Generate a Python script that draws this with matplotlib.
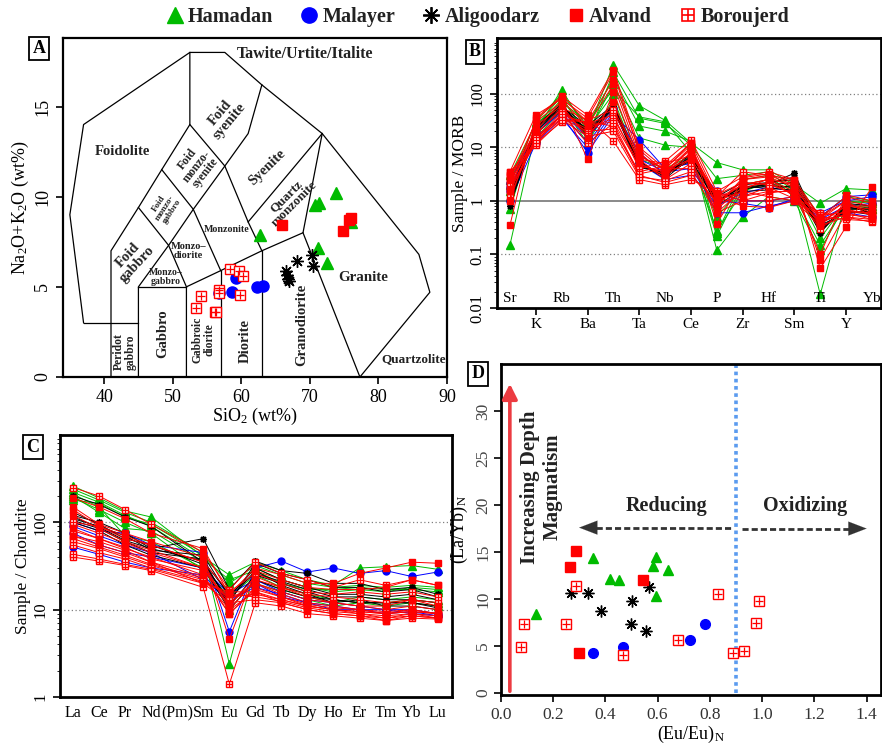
import numpy as np
import matplotlib
matplotlib.use('Agg')
import matplotlib.pyplot as plt
from matplotlib.lines import Line2D
from matplotlib.legend_handler import HandlerTuple

plt.rcParams['font.family'] = ['Liberation Serif', 'DejaVu Serif']
plt.rcParams['mathtext.fontset'] = 'custom'
plt.rcParams['mathtext.rm'] = 'Liberation Serif'
plt.rcParams['mathtext.it'] = 'Liberation Serif:italic'
plt.rcParams['mathtext.bf'] = 'Liberation Serif:bold'

GREEN = '#00bb00'
BLUE = '#0000ff'
BLACK = '#000000'
RED = '#ff0000'

# ---------------- Panel A : TAS (SiO2 vs Na2O+K2O) ----------------
ham_sio2 = [62.8, 73.8, 70.8, 71.3, 71.2, 72.5, 76.0]
ham_alk = [7.9, 10.2, 9.55, 9.65, 7.15, 6.3, 8.6]
mal_sio2 = [59.3, 58.7, 62.3, 63.2, 56.7]
mal_alk = [5.5, 4.7, 5.0, 5.05, 4.65]
ali_sio2 = [66.5, 66.7, 66.8, 66.9, 68.1, 70.3, 70.4]
ali_alk = [5.9, 5.65, 5.45, 5.3, 6.45, 6.75, 6.15]
alv_sio2 = [65.9, 74.9, 75.7, 76.0]
alv_alk = [8.45, 8.1, 8.7, 8.8]
bor_sio2 = [58.4, 59.7, 60.2, 59.8, 54.1, 53.4, 56.1, 56.3, 56.7, 56.7]
bor_alk = [6.0, 5.9, 5.6, 4.55, 4.5, 3.8, 3.6, 3.6, 4.85, 4.65]

# field boundaries (Middlemost 1994, plutonic)
tas_lines = [
    [(41, 0), (41, 7), (45, 9.4), (48.4, 11.5), (52.5, 14), (52.5, 18), (57.6, 18),
     (63, 16.2), (71.8, 13.5), (85.9, 6.8), (87.5, 4.7), (77.3, 0)],
    [(37, 3), (35, 9), (37, 14), (52.5, 18)],
    [(37, 3), (45, 3)],
    [(45, 0), (45, 5), (49.4, 7.3), (53, 9.3), (57.6, 11.7), (61, 13.5), (63, 16.2)],
    [(45, 5), (52, 5)],
    [(52, 0), (52, 5), (57, 5.9), (63, 7), (69, 8), (71.8, 13.5)],
    [(57, 0), (57, 5.9)],
    [(63, 0), (63, 7)],
    [(69, 8), (77.3, 0)],
    [(45, 9.4), (49.4, 7.3), (52, 5)],
    [(48.4, 11.5), (53, 9.3), (57, 5.9)],
    [(52.5, 14), (57.6, 11.7), (61, 8.6), (63, 7)],
    [(61, 8.6), (71.8, 13.5)],
]
# name, x, y, size, rotation, bold
tas_labels = [
    ('Tawite/Urtite/Italite', 69.3, 17.9, 11.5, 0, True),
    ('Foidolite', 42.6, 12.5, 10.5, 0, True),
    ('Foid\nsyenite', 57.6, 14.4, 10.5, 50, True),
    ('Foid\nmonzo-\nsyenite', 53.5, 11.7, 8.5, 52, True),
    ('Foid\nmonzo-\ngabbro', 48.9, 9.4, 6.5, 57, True),
    ('Syenite', 63.7, 11.6, 10.5, 44, True),
    ('Quartz\nmonzonite', 67.2, 9.8, 9.5, 45, True),
    ('Monzonite', 57.9, 8.2, 7.2, 0, True),
    ('Monzo–\ndiorite', 52.3, 7.0, 7.5, 0, True),
    ('Monzo–\ngabbro', 49.0, 5.55, 7.0, 0, True),
    ('Foid\ngabbro', 44.2, 6.5, 10.5, 47, True),
    ('Peridot\ngabbro', 43.0, 1.4, 8.4, 90, True),
    ('Gabbro', 48.6, 2.4, 10.5, 90, True),
    ('Gabbroic\ndiorite', 54.5, 2.05, 8.3, 90, True),
    ('Diorite', 60.6, 2.0, 10.5, 90, True),
    ('Granodiorite', 68.8, 2.9, 10.5, 90, True),
    ('Granite', 77.8, 5.5, 10.8, 0, True),
    ('Quartzolite', 85.2, 1.0, 9.5, 0, True),
]

# ---------------- Panel B : MORB-normalised spider ----------------
morb_elems = ['Sr', 'K', 'Rb', 'Ba', 'Th', 'Ta', 'Nb', 'Ce', 'P', 'Zr', 'Hf', 'Sm', 'Ti', 'Y', 'Yb']
morb_ham = [
    [0.15, 20, 120, 20, 350, 60, 32, 12, 5.2, 3.8, 3.8, 2.0, 0.9, 1.7, 1.6],
    [0.7, 25, 90, 15, 250, 35, 28, 11, 2.6, 3.0, 3.5, 1.5, 0.018, 1.0, 0.9],
    [2.0, 30, 100, 25, 200, 25, 20, 13, 0.25, 2.5, 3.0, 1.2, 0.15, 0.8, 0.8],
    [1.5, 22, 80, 18, 150, 15, 11, 10, 0.12, 0.5, 1.2, 1.0, 0.12, 0.9, 1.0],
    [2.5, 18, 70, 30, 120, 37, 30, 8, 0.22, 2.0, 2.5, 1.5, 0.3, 0.7, 0.7],
    [3.0, 28, 60, 12, 80, 5, 3, 6, 0.5, 1.8, 2.0, 1.8, 0.2, 0.9, 0.7],
    [1.2, 15, 50, 22, 100, 6, 4, 7, 0.27, 1.5, 2.2, 2.5, 0.5, 1.2, 1.0],
]
morb_mal = [
    [1.8, 15, 40, 8, 40, 14, 4, 5, 0.6, 0.6, 0.8, 1.0, 0.5, 1.2, 1.3],
    [1.5, 18, 45, 12, 50, 8, 3, 6, 1.5, 1.0, 1.0, 1.2, 0.6, 1.0, 1.2],
    [1.0, 12, 35, 10, 45, 6, 3.5, 4, 0.8, 1.4, 1.8, 1.5, 0.4, 0.6, 0.5],
    [2.2, 20, 50, 15, 55, 5, 2.5, 3, 1.0, 0.9, 0.75, 1.1, 0.45, 0.8, 0.9],
]
morb_ali = [
    [0.8, 22, 60, 20, 60, 5, 3, 7, 1.0, 1.8, 2.0, 3.3, 0.3, 0.7, 0.7],
    [1.0, 20, 55, 18, 55, 4.5, 3, 6, 0.9, 2.0, 2.2, 2.5, 0.28, 0.8, 0.6],
    [1.2, 25, 65, 15, 65, 5.5, 2.8, 8, 1.1, 1.5, 1.6, 2.0, 0.25, 0.9, 0.8],
    [0.9, 18, 50, 22, 58, 4.8, 3.2, 7.5, 0.8, 1.7, 1.9, 1.8, 0.35, 0.6, 0.65],
    [1.1, 24, 58, 25, 62, 5.2, 2.6, 6.5, 1.2, 2.2, 2.0, 2.2, 0.27, 0.75, 0.7],
    [1.4, 21, 62, 17, 52, 4.2, 3.4, 5.5, 0.95, 1.9, 1.7, 1.6, 0.32, 0.65, 0.55],
    [1.0, 23, 54, 19, 57, 5.0, 2.9, 6.8, 1.05, 1.6, 2.1, 2.8, 0.3, 0.7, 0.75],
]
morb_alv = [
    [0.35, 35, 90, 40, 280, 10, 4, 12, 0.37, 2.5, 3.0, 2.5, 0.055, 0.33, 1.8],
    [3.5, 40, 80, 35, 250, 8, 3, 10, 1.0, 2.0, 2.5, 2.0, 0.08, 0.6, 0.6],
    [2.5, 30, 70, 6, 110, 6, 5, 7, 1.4, 1.2, 1.5, 1.5, 0.1, 1.3, 1.0],
    [1.0, 25, 60, 15, 70, 5, 3, 6, 0.6, 1.6, 2.6, 1.2, 0.4, 0.8, 0.8],
    [3.0, 20, 75, 25, 150, 7, 4, 11, 0.8, 2.7, 3.2, 2.2, 0.5, 1.0, 0.5],
    [1.5, 33, 85, 30, 180, 9, 3.5, 9, 1.2, 0.8, 0.75, 1.0, 0.35, 0.5, 0.45],
]
morb_bor = [
    [3.5, 12, 30, 35, 13, 2.5, 2, 2.5, 1.4, 1.0, 1.0, 1.2, 0.6, 0.5, 0.4],
    [3.0, 11, 32, 30, 25, 3, 2.2, 3, 1.0, 1.5, 1.2, 1.0, 0.55, 0.6, 0.45],
    [2.5, 13, 40, 28, 40, 4, 5.5, 14, 1.5, 2.8, 3.5, 2.5, 0.5, 1.2, 0.9],
    [2.0, 15, 35, 20, 22, 3.5, 4.5, 12, 1.2, 3.5, 3.0, 2.0, 0.45, 1.0, 0.8],
    [1.5, 14, 45, 25, 30, 4.5, 3.5, 10, 0.8, 2.5, 2.8, 1.8, 0.4, 0.8, 0.7],
    [1.2, 16, 38, 22, 35, 5, 3, 8, 1.1, 2.0, 2.5, 1.5, 0.35, 0.9, 0.6],
    [2.8, 18, 50, 18, 45, 6, 2.5, 5, 0.7, 1.8, 2.2, 1.3, 0.3, 0.7, 0.55],
    [1.8, 12, 42, 12, 28, 3.2, 4, 4, 0.9, 1.2, 1.8, 1.1, 0.42, 0.55, 0.5],
    [2.2, 17, 55, 32, 50, 7, 3.8, 6, 1.3, 2.2, 2.0, 1.4, 0.38, 0.65, 0.6],
    [1.6, 14, 33, 16, 20, 2.8, 2.4, 3.5, 0.6, 1.0, 1.4, 1.6, 0.5, 0.45, 0.42],
]

# ---------------- Panel C : chondrite-normalised REE ----------------
ree_labels = ['La', 'Ce', 'Pr', 'Nd', '(Pm)', 'Sm', 'Eu', 'Gd', 'Tb', 'Dy', 'Ho', 'Er', 'Tm', 'Yb', 'Lu']
ree_pos = [0, 1, 2, 3, 5, 6, 7, 8, 9, 10, 11, 12, 13, 14]  # Pm not analysed
ree_ham = [
    [260, 190, 135, 115, 40, 25, 35, 28, 22, 19, 30, 31, 32, 29],
    [240, 180, 130, 100, 45, 2.4, 30, 22, 18, 16, 17, 16, 18, 17],
    [220, 170, 120, 90, 38, 22, 28, 20, 17, 17, 18, 17, 17, 16],
    [210, 150, 70, 60, 30, 14, 25, 18, 15, 13, 12, 11, 12, 11],
    [200, 130, 85, 80, 35, 10, 22, 17, 14, 12, 14, 13, 14, 13],
    [180, 165, 115, 95, 42, 20, 32, 25, 20, 18, 19, 18, 19, 18],
    [190, 140, 100, 75, 28, 12, 20, 16, 13, 11, 12, 12, 13, 12],
]
ree_mal = [
    [100, 80, 75, 55, 45, 5.6, 30, 36, 27, 30, 26, 28, 24, 27],
    [75, 55, 45, 40, 30, 15, 22, 16, 13, 12, 11, 10, 10, 9],
    [52, 43, 35, 30, 25, 12, 20, 14, 12, 10, 10, 9, 9.5, 8.5],
    [90, 70, 55, 45, 22, 13, 18, 15, 12, 11, 10, 10, 9, 8.5],
]
ree_ali = [
    [120, 100, 75, 50, 65, 17, 36, 28, 26, 20, 20, 17, 18, 15],
    [110, 90, 70, 48, 42, 14, 30, 22, 18, 15, 15, 14, 15, 13],
    [200, 160, 115, 90, 35, 12, 34, 26, 22, 18, 18, 16, 17, 14],
    [105, 85, 60, 45, 38, 11, 25, 20, 16, 13, 12, 12, 12, 11],
    [130, 95, 65, 55, 33, 13, 28, 19, 15, 12, 13, 11, 11, 10],
    [100, 80, 55, 42, 30, 10, 22, 17, 14, 13, 12, 12, 12, 10.5],
    [115, 88, 62, 50, 36, 15, 26, 21, 17, 14, 14, 13, 13, 12],
]
ree_alv = [
    [190, 150, 110, 75, 50, 15, 30, 25, 20, 20, 26, 30, 35, 34],
    [150, 95, 75, 60, 40, 4.6, 28, 22, 18, 17, 17, 18, 22, 19],
    [140, 90, 70, 55, 35, 10, 22, 18, 14, 12, 11, 11, 13, 11],
    [85, 65, 50, 40, 25, 9, 18, 14, 11, 10, 9, 8, 9, 8],
    [120, 85, 60, 48, 30, 12, 20, 15, 12, 11, 10, 9, 10, 9],
    [70, 55, 45, 35, 20, 16, 16, 12, 10, 9, 8.5, 7.5, 8.5, 8],
]
ree_bor = [
    [250, 200, 140, 95, 45, 17, 35, 26, 22, 18, 22, 19, 22, 19],
    [40, 36, 32, 28, 18, 1.4, 12, 11, 9, 8.5, 8, 7.5, 8, 7.8],
    [43, 38, 33, 29, 20, 12, 13, 12, 10, 9, 8.5, 8, 8.5, 8],
    [60, 50, 40, 32, 22, 14, 15, 13, 11, 10, 9.5, 9, 9.5, 9],
    [80, 65, 52, 38, 28, 13, 20, 16, 13, 12, 11, 10, 11, 10],
    [95, 75, 58, 45, 30, 11, 24, 18, 15, 14, 13, 12, 13, 12],
    [70, 60, 48, 35, 24, 9, 17, 14, 11.5, 10.5, 10, 9.5, 10, 9],
    [55, 45, 38, 30, 21, 15, 14, 12.5, 10.5, 9.5, 9, 8.5, 9, 8.5],
    [100, 90, 65, 55, 35, 16, 26, 20, 16, 15, 16, 15, 16, 14],
    [65, 52, 42, 33, 23, 10, 16, 13, 11, 10, 9.5, 9, 9.5, 9],
]

# ---------------- Panel D : (Eu/Eu)N vs (La/Yb)N ----------------
d_ham_eu = [0.134, 0.354, 0.418, 0.453, 0.593, 0.583, 0.64, 0.593]
d_ham_la = [8.4, 14.4, 12.1, 12.0, 14.5, 13.5, 13.1, 10.3]
d_mal_eu = [0.352, 0.468, 0.726, 0.782, 0.25]
d_mal_la = [4.3, 4.9, 5.7, 7.4, 7.35]
d_ali_eu = [0.269, 0.335, 0.383, 0.503, 0.497, 0.555, 0.567]
d_ali_la = [10.7, 10.7, 8.7, 9.8, 7.4, 6.6, 11.3]
d_alv_eu = [0.29, 0.265, 0.543, 0.30]
d_alv_la = [15.1, 13.4, 12.0, 4.3]
d_bor_eu = [0.076, 0.088, 0.25, 0.29, 0.468, 0.677, 0.833, 0.888, 0.929, 0.976, 0.987]
d_bor_la = [4.9, 7.4, 7.35, 11.4, 4.1, 5.7, 10.5, 4.3, 4.5, 7.5, 9.8]
eu_oxid_limit = 0.9


def draw(ax, x, y, group, ms, ls='none', lw=0.8, zorder=3):
    if group == 'ham':
        ax.plot(x, y, ls=ls, lw=lw, color=GREEN, marker='^', ms=ms, mec=GREEN, zorder=zorder)
    elif group == 'mal':
        ax.plot(x, y, ls=ls, lw=lw, color=BLUE, marker='o', ms=ms, mec=BLUE, zorder=zorder)
    elif group == 'ali':
        ax.plot(x, y, ls=ls, lw=lw, color=BLACK, marker=(8, 2, 0), ms=ms, mew=1.0, zorder=zorder)
        ax.plot(x, y, ls='none', color=BLACK, marker='o', ms=ms * 0.3, zorder=zorder)
    elif group == 'alv':
        ax.plot(x, y, ls=ls, lw=lw, color=RED, marker='s', ms=ms, mec=RED, zorder=zorder)
    elif group == 'bor':
        ax.plot(x, y, ls=ls, lw=lw, color=RED, marker='s', ms=ms, mfc='white', mec=RED,
                mew=1.0, zorder=zorder)
        ax.plot(x, y, ls='none', color=RED, marker='+', ms=ms * 0.85, mew=0.9, zorder=zorder)


def panel_label(x, y, s):
    fig.text(x / 882, 1 - y / 745, s, fontsize=13, fontweight='bold', ha='center', va='center',
             bbox=dict(boxstyle='square,pad=0.18', fc='white', ec='black', lw=1.3))


fig = plt.figure(figsize=(8.82, 7.45), dpi=100)


def px_axes(l, t, r, b):
    return fig.add_axes([l / 882, 1 - b / 745, (r - l) / 882, (b - t) / 745])


# ---- A ----
axA = px_axes(63, 38, 447, 377)
for line in tas_lines:
    xs, ys = zip(*line)
    axA.plot(xs, ys, color='black', lw=0.9, zorder=1)
for name, tx, ty, fs, rot, bold in tas_labels:
    axA.text(tx, ty, name, fontsize=fs, rotation=rot, ha='center', va='center',
             fontweight='bold' if bold else 'normal', linespacing=0.95, color='#222222')
draw(axA, mal_sio2, mal_alk, 'mal', 8)
draw(axA, ham_sio2, ham_alk, 'ham', 8)
draw(axA, ali_sio2, ali_alk, 'ali', 9)
draw(axA, alv_sio2, alv_alk, 'alv', 7)
draw(axA, bor_sio2, bor_alk, 'bor', 7)
axA.set_xlim(34, 90)
axA.set_ylim(0, 18.8)
axA.set_xticks([40, 50, 60, 70, 80, 90])
axA.set_yticks([0, 5, 10, 15])
axA.tick_params(labelsize=13, width=1.2, length=5)
for lab in axA.get_yticklabels():
    lab.set_rotation(90)
    lab.set_va('center')
axA.set_xlabel('SiO$_2$ (wt%)', fontsize=13, labelpad=0)
axA.set_ylabel('Na$_2$O+K$_2$O (wt%)', fontsize=13, labelpad=2)
for sp in axA.spines.values():
    sp.set_linewidth(1.6)

# ---- B ----
axB = px_axes(497, 38, 881, 308)
xb = np.arange(len(morb_elems))
for grp, rows in [('ham', morb_ham), ('mal', morb_mal), ('ali', morb_ali),
                  ('bor', morb_bor), ('alv', morb_alv)]:
    for r in rows:
        draw(axB, xb, r, grp, 5 if grp != 'ham' else 5.5, ls='-', lw=0.7)
axB.set_yscale('log')
axB.set_ylim(0.01, 1100)
axB.set_xlim(-0.5, 14.35)
for v in [0.1, 10, 100]:
    axB.axhline(v, color='gray', ls=(0, (1, 2)), lw=0.9, zorder=0)
axB.axhline(1, color='gray', lw=1.3, zorder=0)
axB.set_xticks(xb[1::2])
axB.set_xticklabels(morb_elems[1::2], fontsize=11)
for i in xb[0::2]:
    axB.text(i, 0.0112, morb_elems[i], fontsize=11, ha='center', va='bottom')
axB.set_yticks([0.01, 0.1, 1, 10, 100])
axB.set_yticklabels(['0.01', '0.1', '1', '10', '100'], fontsize=12, rotation=90, va='center')
axB.tick_params(axis='y', which='major', length=5, width=1.2)
axB.tick_params(axis='x', length=5, width=1.2, pad=2)
axB.set_ylabel('Sample / MORB', fontsize=12.5, labelpad=1)
for sp in axB.spines.values():
    sp.set_linewidth(2)

# ---- C ----
axC = px_axes(60, 435, 452, 697)
for grp, rows in [('ham', ree_ham), ('mal', ree_mal), ('ali', ree_ali),
                  ('bor', ree_bor), ('alv', ree_alv)]:
    for r in rows:
        draw(axC, ree_pos, r, grp, 5 if grp != 'ham' else 5.5, ls='-', lw=0.7)
axC.set_yscale('log')
axC.set_ylim(1, 1000)
axC.set_xlim(-0.5, 14.55)
for v in [10, 100]:
    axC.axhline(v, color='gray', ls=(0, (1, 2)), lw=0.9, zorder=0)
axC.set_xticks(np.arange(len(ree_labels)))
axC.set_xticklabels(ree_labels, fontsize=11.5)
axC.set_yticks([1, 10, 100])
axC.set_yticklabels(['1', '10', '100'], fontsize=12, rotation=90, va='center')
axC.tick_params(axis='y', which='major', length=5, width=1.2)
axC.tick_params(axis='x', length=0, pad=6)
axC.set_ylabel('Sample / Chondrite', fontsize=12.5, labelpad=1)
for sp in axC.spines.values():
    sp.set_linewidth(2)

# ---- D ----
axD = px_axes(500.7, 364, 881, 695)
axD.set_xlim(0, 1.455)
axD.set_ylim(-0.2, 35)
axD.plot([eu_oxid_limit, eu_oxid_limit], [0, 35], color='#5b9bef', lw=2.6,
         ls=(0, (1, 1)), zorder=1)
axD.annotate('', xy=(0.035, 32.9), xytext=(0.035, 0.2),
             arrowprops=dict(arrowstyle='-|>,head_width=0.45,head_length=0.9',
                             color='#ec3b41', lw=2.6, shrinkA=0, shrinkB=0))
axD.plot([0.33, 0.885], [17.6, 17.6], color='#333333', lw=2, ls=(0, (2.2, 1.1)))
axD.plot([0.925, 1.37], [17.5, 17.5], color='#333333', lw=2, ls=(0, (2.2, 1.1)))
for x0, x1, yy in [(0.36, 0.30, 17.6), (1.34, 1.40, 17.5)]:
    axD.annotate('', xy=(x1, yy), xytext=(x0, yy),
                 arrowprops=dict(arrowstyle='-|>,head_width=0.5,head_length=1.3',
                                 color='#333333', lw=0.1, shrinkA=0, shrinkB=0))
axD.text(0.636, 19.9, 'Reducing', fontsize=14.5, fontweight='bold', ha='center',
         va='center', color='#222222')
axD.text(1.165, 19.9, 'Oxidizing', fontsize=14.5, fontweight='bold', ha='center',
         va='center', color='#222222')
axD.text(0.111, 21.9, 'Increasing Depth', fontsize=15, fontweight='bold', rotation=90,
         ha='center', va='center', color='#222222')
axD.text(0.197, 21.9, 'Magmatism', fontsize=15, fontweight='bold', rotation=90,
         ha='center', va='center', color='#222222')
draw(axD, d_mal_eu, d_mal_la, 'mal', 7)
draw(axD, d_ham_eu, d_ham_la, 'ham', 7.5)
draw(axD, d_ali_eu, d_ali_la, 'ali', 8.5)
draw(axD, d_alv_eu, d_alv_la, 'alv', 6.5)
draw(axD, d_bor_eu, d_bor_la, 'bor', 6.5)
axD.set_xticks(np.arange(0, 1.41, 0.2))
axD.set_xticklabels(['%.1f' % v for v in np.arange(0, 1.41, 0.2)], fontsize=12.5,
                    color='#333333')
axD.set_yticks([0, 5, 10, 15, 20, 25, 30])
axD.set_yticklabels(['0', '5', '10', '15', '20', '25', '30'], fontsize=12.5, rotation=90,
                    va='center', color='#444444')
axD.tick_params(length=5, width=1.2)
axD.tick_params(axis='y', pad=2)
axD.set_xlabel(r'(Eu/Eu)$_\mathrm{N}$', fontsize=13, labelpad=1)
axD.set_ylabel(r'(La/Yb)$_\mathrm{N}$', fontsize=13)
axD.yaxis.set_label_coords(-0.08, 0.5)
for sp in axD.spines.values():
    sp.set_linewidth(2)

panel_label(39, 48.5, 'A')
panel_label(475, 52, 'B')
panel_label(33, 447, 'C')
panel_label(478, 374, 'D')

# ---- legend ----
h_ham = Line2D([], [], ls='none', marker='^', color=GREEN, ms=11)
h_mal = Line2D([], [], ls='none', marker='o', color=BLUE, ms=11)
h_ali = Line2D([], [], ls='none', marker=(8, 2, 0), color=BLACK, ms=12, mew=1.3)
h_alv = Line2D([], [], ls='none', marker='s', color=RED, ms=9)
h_bor1 = Line2D([], [], ls='none', marker='s', mfc='white', mec=RED, ms=9, mew=1.2)
h_bor2 = Line2D([], [], ls='none', marker='+', color=RED, ms=8, mew=1.2)
fig.legend([h_ham, h_mal, h_ali, h_alv, (h_bor1, h_bor2)],
           ['Hamadan', 'Malayer', 'Aligoodarz', 'Alvand', 'Boroujerd'],
           handler_map={tuple: HandlerTuple(ndivide=1)},
           ncol=5, loc='center', bbox_to_anchor=(0.541, 0.977), frameon=False,
           prop={'family': 'Liberation Serif', 'weight': 'bold', 'size': 14.5},
           handletextpad=0.15, columnspacing=1.3, handlelength=1.0, labelcolor='#222222')

fig.savefig('out.png', dpi=100)
